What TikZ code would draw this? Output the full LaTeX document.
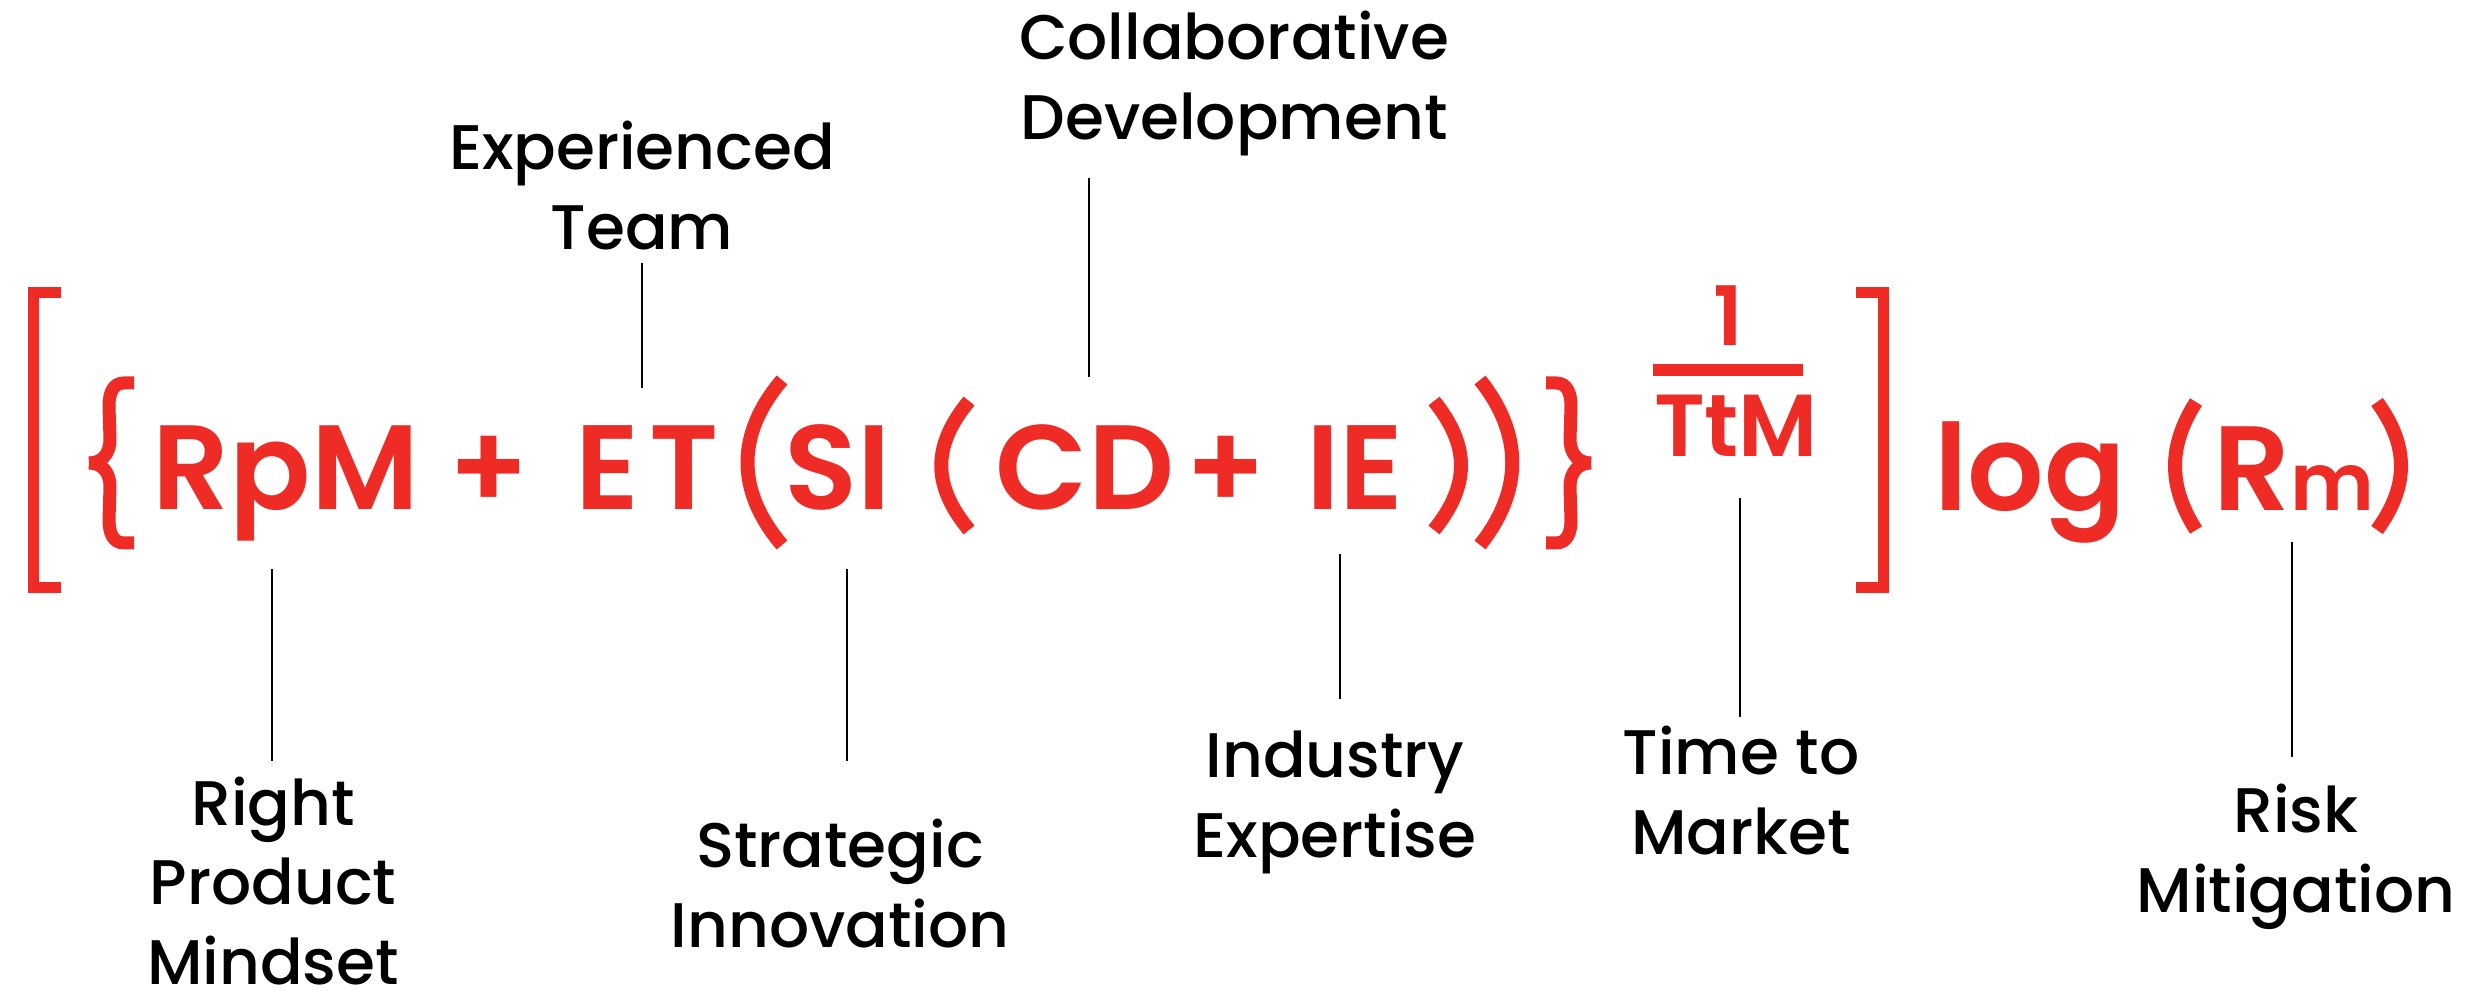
\documentclass[tikz,border=0pt]{standalone}
\usepackage{fontspec}
\setmainfont{Poppins}
\newfontfamily\eqfont{Poppins SemiBold}
\newfontfamily\lblfont{Poppins Medium}
\definecolor{eqred}{HTML}{EE2B25}

\begin{document}
\begin{tikzpicture}[x=0.5pt, y=0.5pt, eq/.style={text=eqred,font=\eqfont\fontsize{60}{60}\selectfont,inner sep=0pt,anchor=base}, lbl/.style={font=\lblfont\fontsize{31.5}{40}\selectfont,align=center,inner sep=0pt,anchor=base}, lead/.style={line width=1.4pt}, brk/.style={draw=eqred,line width=5.5pt}, brc/.style={draw=eqred,line width=6.5pt}, prn/.style={draw=eqred,line width=7pt}]
\useasboundingbox (0,0) rectangle (2475,991);
% formula
\node[eq] (rpm) at (286,481) {RpM};
\node[eq] (plusa) at (489,481) {+};
\node[eq] (et) at (647,481) {E\kern5pt T};
\node[eq] (si) at (838,481) {SI};
\node[eq] (cd) at (1085,481) {CD};
\node[eq] (plusb) at (1226,481) {+};
\node[eq] (ie) at (1355,481) {IE};
\node[eq,font=\eqfont\fontsize{41}{41}\selectfont] (one) at (1728,645) {1};
\node[eq,font=\eqfont\fontsize{44}{44}\selectfont] (ttm) at (1736,534) {TtM};
\node[eq] (log) at (2030,480) {log};
\node[eq] (rm) at (2294,480) {R{\fontsize{40}{40}\selectfont m}};
\fill[eqred] (1653,615) rectangle (1803,627);
% brackets and braces
\draw[brk] (61,698) -- (33,698) -- (33,403) -- (61,403);
\draw[brk] (1856,698) -- (1883,698) -- (1883,403) -- (1856,403);
\draw[brc] (134,608) -- (124,608) .. controls (113,608) and (109,598) .. (109,585) -- (110,552) .. controls (110,536) and (101,528) .. (89,528);
\draw[brc] (134,448) -- (124,448) .. controls (113,448) and (109,458) .. (109,471) -- (110,504) .. controls (110,520) and (101,528) .. (89,528);
\draw[brc] (1546,608) -- (1556,608) .. controls (1567,608) and (1571,598) .. (1571,585) -- (1570,552) .. controls (1570,536) and (1579,528) .. (1591,528);
\draw[brc] (1546,448) -- (1556,448) .. controls (1567,448) and (1571,458) .. (1571,471) -- (1570,504) .. controls (1570,520) and (1579,528) .. (1591,528);
\draw[prn] (782,611) .. controls (736,557) and (736,500) .. (782,446);
\draw[prn] (969,590) .. controls (932,545) and (932,506) .. (969,461);
\draw[prn] (1434,590) .. controls (1470,545) and (1470,506) .. (1434,461);
\draw[prn] (1480,611) .. controls (1523,557) and (1523,500) .. (1480,446);
\draw[prn] (2196,589) .. controls (2168,545) and (2168,505) .. (2196,461);
\draw[prn] (2377,589) .. controls (2409,545) and (2409,505) .. (2377,461);
% labels
\node[lbl] (lexp) at (642,741) {Experienced\\Team};
\node[lbl] (lcol) at (1234,851) {Collaborative\\Development};
\node[lbl] (lrpm) at (273,6) {Right\\Product\\Mindset};
\node[lbl] (lsi) at (840,43) {Strategic\\Innovation};
\node[lbl] (lie) at (1335,133) {Industry\\Expertise};
\node[lbl] (lttm) at (1741,136) {Time to\\Market};
\node[lbl] (lrm) at (2296,78) {Risk\\Mitigation};
% leader lines
\coordinate (et-a) at (642,603); \coordinate (et-b) at (642,728);
\coordinate (cd-a) at (1089,614); \coordinate (cd-b) at (1089,813);
\coordinate (rpm-a) at (272,422); \coordinate (rpm-b) at (272,230);
\coordinate (si-a) at (847,422); \coordinate (si-b) at (847,230);
\coordinate (ie-a) at (1340,437); \coordinate (ie-b) at (1340,292);
\coordinate (ttm-a) at (1740,493); \coordinate (ttm-b) at (1740,274);
\coordinate (rm-a) at (2292,449); \coordinate (rm-b) at (2292,234);
\draw[lead] (et-a) -- (et-b); \draw[lead] (cd-a) -- (cd-b);
\draw[lead] (rpm-a) -- (rpm-b); \draw[lead] (si-a) -- (si-b); \draw[lead] (ie-a) -- (ie-b);
\draw[lead] (ttm-a) -- (ttm-b); \draw[lead] (rm-a) -- (rm-b);
\end{tikzpicture}
\end{document}
